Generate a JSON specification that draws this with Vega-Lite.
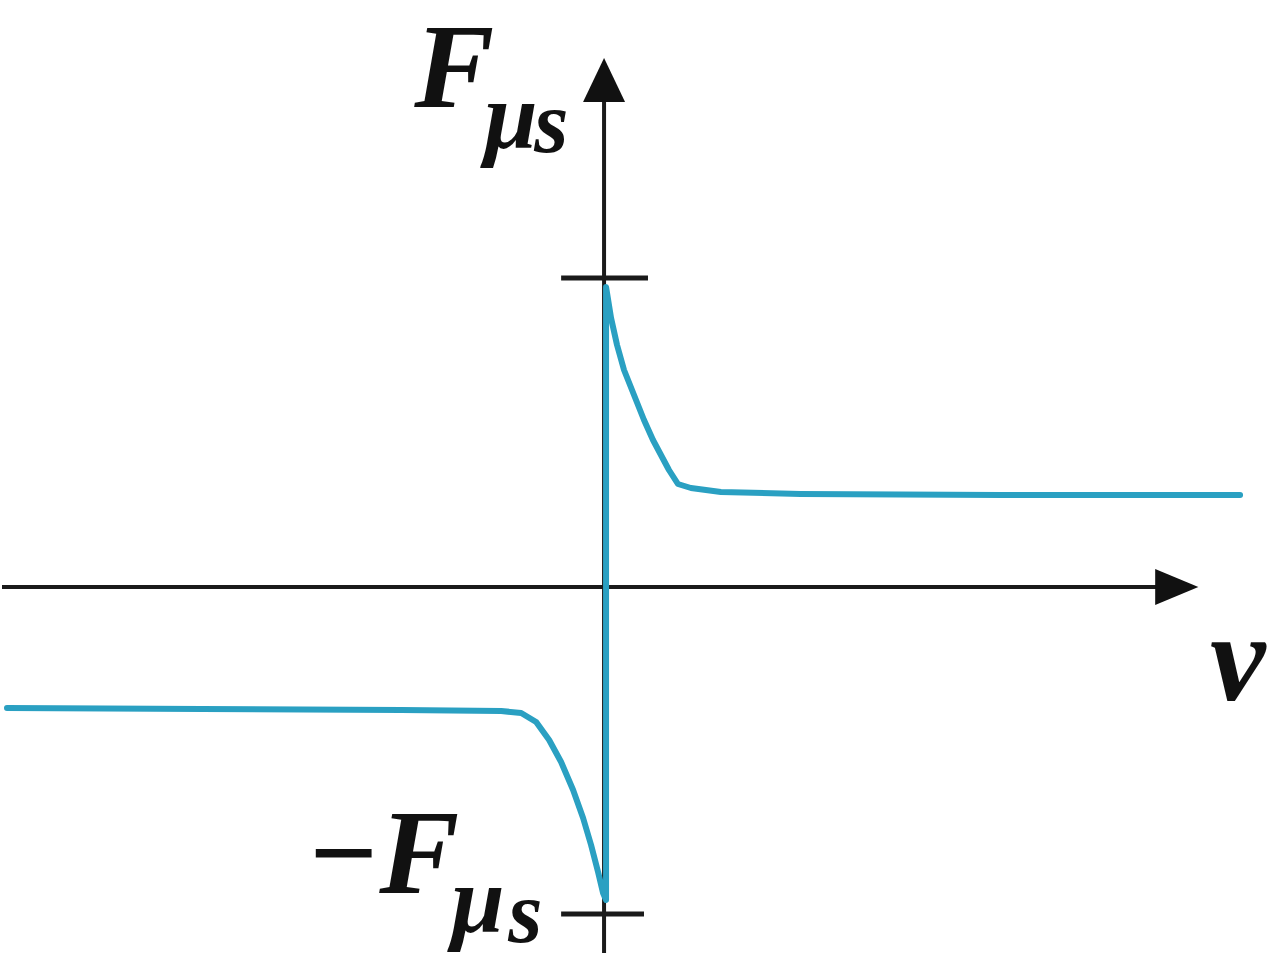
{
  "$schema": "https://vega.github.io/schema/vega-lite/v6.json",
  "width": 1280,
  "height": 971,
  "autosize": {"type": "fit", "contains": "padding"},
  "padding": 0,
  "background": "white",
  "config": {"view": {"stroke": null}},
  "datasets": {
    "axes": [
      {"name": "v-axis", "x1": -605, "x2": 555, "y1": -2, "y2": -2, "w": 4},
      {"name": "F-axis", "x1": -2, "x2": -2, "y1": -368, "y2": 484, "w": 4},
      {"name": "tick+", "x1": -45, "x2": 42, "y1": 307, "y2": 307, "w": 5},
      {"name": "tick-", "x1": -45, "x2": 38, "y1": -329, "y2": -329, "w": 5}
    ],
    "arrows": [
      {"name": "F-arrow", "x": -2, "y": 504, "shape": "M0,-1.1L-1,1L1,1Z", "size": 1764},
      {"name": "v-arrow", "x": 568, "y": -2, "shape": "M1.4,0L-1,-1L-1,1Z", "size": 1296}
    ],
    "curve": [
      {"i": 1, "v": -600, "F": -123},
      {"i": 2, "v": -405, "F": -124},
      {"i": 3, "v": -205, "F": -125},
      {"i": 4, "v": -105, "F": -126},
      {"i": 5, "v": -85, "F": -128},
      {"i": 6, "v": -70, "F": -137},
      {"i": 7, "v": -57, "F": -155},
      {"i": 8, "v": -45, "F": -177},
      {"i": 9, "v": -33, "F": -205},
      {"i": 10, "v": -23, "F": -233},
      {"i": 11, "v": -15, "F": -260},
      {"i": 12, "v": -8, "F": -287},
      {"i": 13, "v": -3, "F": -308},
      {"i": 14, "v": 0, "F": -315},
      {"i": 15, "v": 0, "F": 298},
      {"i": 16, "v": 5, "F": 267},
      {"i": 17, "v": 11, "F": 240},
      {"i": 18, "v": 18, "F": 215},
      {"i": 19, "v": 28, "F": 190},
      {"i": 20, "v": 38, "F": 165},
      {"i": 21, "v": 47, "F": 145},
      {"i": 22, "v": 55, "F": 130},
      {"i": 23, "v": 63, "F": 115},
      {"i": 24, "v": 72, "F": 101},
      {"i": 25, "v": 85, "F": 97},
      {"i": 26, "v": 115, "F": 93},
      {"i": 27, "v": 195, "F": 91},
      {"i": 28, "v": 395, "F": 90},
      {"i": 29, "v": 635, "F": 90}
    ],
    "labels": [
      {"t": "F", "x": -192, "y": 478, "s": 120},
      {"t": "μ", "x": -122, "y": 437, "s": 96},
      {"t": "s", "x": -72, "y": 433, "s": 88},
      {"t": "−F", "x": -300, "y": -308, "s": 120},
      {"t": "μ", "x": -155, "y": -347, "s": 96},
      {"t": "s", "x": -98, "y": -357, "s": 88},
      {"t": "v", "x": 605, "y": -115, "s": 125}
    ]
  },
  "layer": [
    {
      "data": {"name": "axes"},
      "mark": {"type": "rule", "color": "#1a1a1a"},
      "encoding": {
        "x": {"field": "x1", "type": "quantitative", "scale": {"domain": [-605, 675], "nice": false, "zero": false}, "axis": null},
        "x2": {"field": "x2"},
        "y": {"field": "y1", "type": "quantitative", "scale": {"domain": [-386, 585], "nice": false, "zero": false}, "axis": null},
        "y2": {"field": "y2"},
        "strokeWidth": {"field": "w", "type": "quantitative", "scale": null, "legend": null}
      }
    },
    {
      "data": {"name": "arrows"},
      "mark": {"type": "point", "filled": true, "color": "#111111", "opacity": 1},
      "encoding": {
        "x": {"field": "x", "type": "quantitative"},
        "y": {"field": "y", "type": "quantitative"},
        "shape": {"field": "shape", "type": "nominal", "scale": null, "legend": null},
        "size": {"field": "size", "type": "quantitative", "scale": null, "legend": null}
      }
    },
    {
      "data": {"name": "curve"},
      "mark": {"type": "line", "color": "#2aa0c2", "strokeWidth": 6, "strokeJoin": "round", "strokeCap": "round", "interpolate": "linear"},
      "encoding": {
        "x": {"field": "v", "type": "quantitative"},
        "y": {"field": "F", "type": "quantitative"},
        "order": {"field": "i", "type": "quantitative"}
      }
    },
    {
      "data": {"name": "labels"},
      "mark": {"type": "text", "align": "left", "baseline": "alphabetic", "font": "Liberation Serif", "fontStyle": "italic", "fontWeight": "bold", "color": "#111111"},
      "encoding": {
        "x": {"field": "x", "type": "quantitative"},
        "y": {"field": "y", "type": "quantitative"},
        "text": {"field": "t", "type": "nominal"},
        "size": {"field": "s", "type": "quantitative", "scale": null, "legend": null}
      }
    }
  ]
}
